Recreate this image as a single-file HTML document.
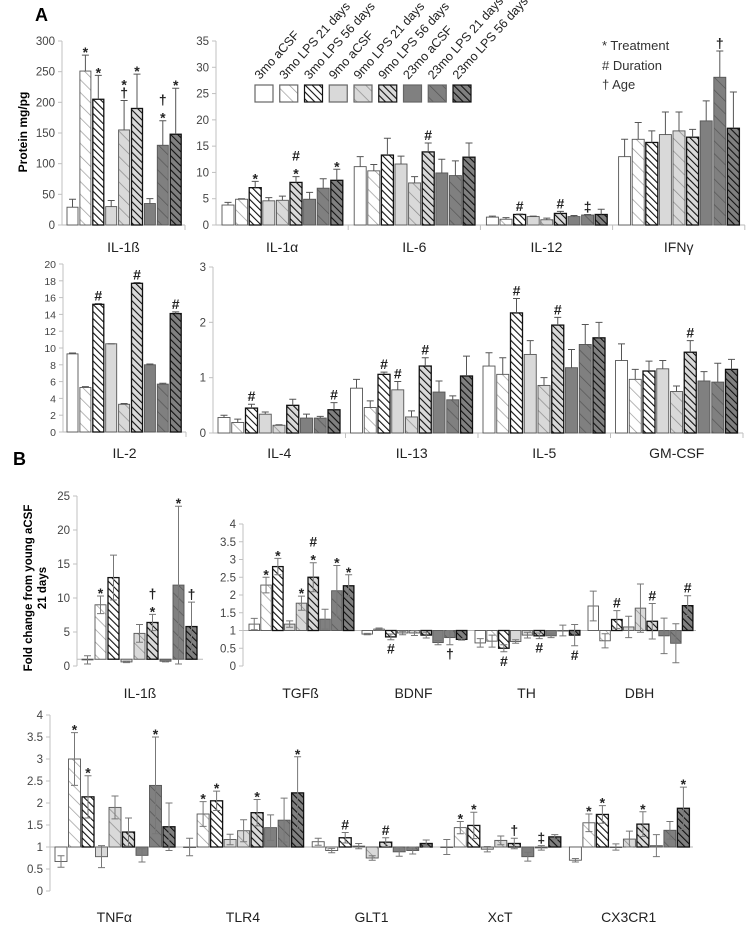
<!DOCTYPE html>
<html><head><meta charset="utf-8"><style>
html,body{margin:0;padding:0;background:#fff;}
svg{display:block;font-family:"Liberation Sans",sans-serif;}
</style></head><body>
<svg id="chart" width="754" height="929" viewBox="0 0 754 929" xmlns="http://www.w3.org/2000/svg">
<defs>
<pattern id="p1" patternUnits="userSpaceOnUse" width="9" height="9" patternTransform="rotate(-45)"><rect width="9" height="9" fill="#ffffff"/><line x1="0" y1="0" x2="0" y2="9" stroke="#999" stroke-width="1.4"/></pattern>
<pattern id="p2" patternUnits="userSpaceOnUse" width="5" height="5" patternTransform="rotate(-45)"><rect width="5" height="5" fill="#ffffff"/><line x1="0" y1="0" x2="0" y2="5" stroke="#111" stroke-width="2.2"/></pattern>
<pattern id="p4" patternUnits="userSpaceOnUse" width="9" height="9" patternTransform="rotate(-45)"><rect width="9" height="9" fill="#d9d9d9"/><line x1="0" y1="0" x2="0" y2="9" stroke="#8a8a8a" stroke-width="1.4"/></pattern>
<pattern id="p5" patternUnits="userSpaceOnUse" width="5" height="5" patternTransform="rotate(-45)"><rect width="5" height="5" fill="#d9d9d9"/><line x1="0" y1="0" x2="0" y2="5" stroke="#111" stroke-width="2.2"/></pattern>
<pattern id="p7" patternUnits="userSpaceOnUse" width="9" height="9" patternTransform="rotate(-45)"><rect width="9" height="9" fill="#808080"/><line x1="0" y1="0" x2="0" y2="9" stroke="#555" stroke-width="1.4"/></pattern>
<pattern id="p8" patternUnits="userSpaceOnUse" width="5" height="5" patternTransform="rotate(-45)"><rect width="5" height="5" fill="#808080"/><line x1="0" y1="0" x2="0" y2="5" stroke="#111" stroke-width="2.2"/></pattern>
</defs>
<text x="35" y="21" font-size="18" font-weight="bold">A</text>
<text x="13" y="465" font-size="18" font-weight="bold">B</text>
<text transform="translate(27,132) rotate(-90)" text-anchor="middle" font-size="12" font-weight="bold">Protein mg/pg</text>
<text transform="translate(32,588) rotate(-90)" text-anchor="middle" font-size="11.5" font-weight="bold"><tspan x="0" dy="0">Fold change from young aCSF</tspan><tspan x="0" dy="14">21 days</tspan></text>
<g font-size="13" fill="#333">
<text x="602" y="50">* Treatment</text>
<text x="602" y="70"># Duration</text>
<text x="602" y="89">† Age</text>
</g>
<g id="legend"></g>
<g id="plots"></g>
</svg>
<script>
// ---------- data ----------
const seriesNames = ["3mo aCSF","3mo LPS 21 days","3mo LPS 56 days","9mo aCSF","9mo LPS 21 days","9mo LPS 56 days","23mo aCSF","23mo LPS 21 days","23mo LPS 56 days"];

const aIl1bValues = [29,251,205,30,155,190,35,130,148];
const aIl1bErrors = [13,26,39,10,48,56,8,40,75];
const aIl1bMarks = ["","*","*","","*\n†","*","","†\n*","*"];

const il1aValues = [3.8,4.9,7.1,4.6,4.7,8.1,4.9,7.0,8.5];
const il1aErrors = [0.5,0.1,1.2,0.6,0.8,1.1,1.3,1.8,2.1];
const il1aMarks = ["","","*","","","#\n*","","","*"];
const il6Values = [11.1,10.3,13.3,11.6,8.0,13.9,9.9,9.4,12.9];
const il6Errors = [1.9,1.2,3.2,1.5,1.2,1.7,2.6,2.8,2.7];
const il6Marks = ["","","","","","#","","",""];
const il12Values = [1.5,1.1,2.0,1.6,1.0,2.2,1.6,1.9,2.0];
const il12Errors = [0.2,0.3,0.1,0.1,0.3,0.4,0.2,0.1,1.0];
const il12Marks = ["","","#","","","#","","‡",""];
const ifngValues = [13.0,16.3,15.7,17.2,17.9,16.7,19.8,28.1,18.4];
const ifngErrors = [3.3,3.2,2.2,4.3,3.6,1.5,3.8,5.0,6.9];
const ifngMarks = ["","","","","","","","†",""];

const il2Values = [9.3,5.3,15.2,10.5,3.3,17.7,8.0,5.7,14.1];
const il2Errors = [0.1,0.1,0.1,0,0.1,0.1,0.1,0.1,0.2];
const il2Marks = ["","","#","","","#","","","#"];
const il4Values = [0.28,0.19,0.45,0.34,0.14,0.50,0.27,0.27,0.42];
const il4Errors = [0.04,0.06,0.07,0.04,0.01,0.11,0.07,0.03,0.13];
const il4Marks = ["","","#","","","","","","#"];
const il13Values = [0.81,0.46,1.06,0.78,0.29,1.21,0.74,0.60,1.03];
const il13Errors = [0.16,0.12,0.04,0.15,0.11,0.15,0.2,0.07,0.36];
const il13Marks = ["","","#","#","","#","","",""];
const il5Values = [1.21,1.06,2.17,1.42,0.86,1.95,1.18,1.6,1.72];
const il5Errors = [0.24,0.3,0.26,0.25,0.14,0.14,0.33,0.36,0.28];
const il5Marks = ["","","#","","","#","","",""];
const gmcsfValues = [1.31,0.97,1.12,1.16,0.75,1.46,0.94,0.92,1.15];
const gmcsfErrors = [0.3,0.18,0.18,0.15,0.1,0.21,0.17,0.34,0.18];
const gmcsfMarks = ["","","","","","#","","",""];

const bIl1bValues = [0.9,9.0,13.0,0.6,4.8,6.4,0.7,11.9,5.8];
const bIl1bErrors = [0.6,1.3,3.3,0.1,1.3,1.2,0.1,11.6,3.6];
const bIl1bMarks = ["","*","","","","†\n*","","*","†"];
const tgfbValues = [1.18,2.28,2.8,1.18,1.77,2.5,1.32,2.12,2.26];
const tgfbErrors = [0.16,0.22,0.23,0.09,0.2,0.41,0.28,0.71,0.31];
const tgfbMarks = ["","*","*","","*","#\n*","","*","*"];
const bdnfValues = [0.9,1.04,0.82,0.93,0.93,0.87,0.66,0.8,0.75];
const bdnfErrors = [0.02,0.03,0.08,0.05,0.07,0.08,0.06,0.2,0.02];
const bdnfMarks = ["","","_#","","","","","_†",""];
const thValues = [0.65,0.7,0.5,0.69,0.87,0.85,0.85,1.0,0.87];
const thErrors = [0.12,0.17,0.1,0.05,0.08,0.08,0.05,0.15,0.3];
const thMarks = ["","","_#","","","_#","","","_#"];
const dbhValues = [1.69,0.71,1.31,1.1,1.63,1.26,0.85,0.64,1.7];
const dbhErrors = [0.42,0.2,0.25,0.3,0.68,0.5,0.5,0.55,0.28];
const dbhMarks = ["","","#","","","#","","","#"];

const tnfaValues = [0.67,3.0,2.14,0.78,1.9,1.34,0.81,2.4,1.46];
const tnfaErrors = [0.13,0.6,0.48,0.25,0.26,0.32,0.15,1.1,0.54];
const tnfaMarks = ["","*","*","","","","","*",""];
const tlr4Values = [1.0,1.75,2.05,1.17,1.37,1.78,1.44,1.61,2.23];
const tlr4Errors = [0.2,0.28,0.22,0.12,0.25,0.3,0.29,0.5,0.82];
const tlr4Marks = ["","*","*","","","*","","","*"];
const glt1Values = [1.12,0.92,1.21,1.02,0.75,1.11,0.89,0.92,1.08];
const glt1Errors = [0.08,0.05,0.12,0.06,0.05,0.1,0.1,0.08,0.08];
const glt1Marks = ["","","#","","","#","","",""];
const xctValues = [1.0,1.44,1.49,0.95,1.15,1.08,0.78,0.98,1.23];
const xctErrors = [0.17,0.14,0.3,0.06,0.1,0.12,0.1,0.05,0.05];
const xctMarks = ["","*","*","","","†","","‡",""];
const cx3cr1Values = [0.7,1.55,1.74,1.0,1.18,1.52,1.03,1.38,1.88];
const cx3cr1Errors = [0.04,0.2,0.2,0.07,0.18,0.28,0.25,0.2,0.48];
const cx3cr1Marks = ["","*","*","","","*","","","*"];

const ticksA1L = [0,50,100,150,200,250,300];
const ticksA1R = [0,5,10,15,20,25,30,35];
const ticksA2L = [0,2,4,6,8,10,12,14,16,18,20];
const ticksA2R = [0,1,2,3];
const ticksB1L = [0,5,10,15,20,25];
const ticksHalf = [0,0.5,1,1.5,2,2.5,3,3.5,4];

// ---------- drawing ----------
const NS = "http://www.w3.org/2000/svg";
const fills = ["#ffffff","url(#p1)","url(#p2)","#d9d9d9","url(#p4)","url(#p5)","#808080","url(#p7)","url(#p8)"];
const plots = document.getElementById('plots');
function mk(tag, parent){ const e=document.createElementNS(NS,tag); parent.appendChild(e); return e; }

function drawPanel(cfg){
  const g = mk('g', plots);
  
  
  const yScale = v => cfg.yBot - (v - cfg.min) / (cfg.max - cfg.min) * (cfg.yBot - cfg.yTop);
  const xEnd = cfg.gx + cfg.gw * cfg.groups.length;
  // y axis
  const ax = mk('line', g);
  
  
  ax.setAttribute('x1', cfg.ax); ax.setAttribute('x2', cfg.ax);
  ax.setAttribute('y1', yScale(cfg.ticks[cfg.ticks.length-1])); ax.setAttribute('y2', yScale(cfg.min));
  ax.setAttribute('stroke', '#c0c0c0');
  cfg.ticks.forEach(t => {
    const tk = mk('line', g);
    
    
    tk.setAttribute('x1', cfg.ax-4); tk.setAttribute('x2', cfg.ax);
    tk.setAttribute('y1', yScale(t)); tk.setAttribute('y2', yScale(t));
    tk.setAttribute('stroke', '#c0c0c0');
    const tl = mk('text', g);
    
    
    tl.setAttribute('x', cfg.ax-7); tl.setAttribute('y', yScale(t)+4);
    tl.setAttribute('text-anchor', 'end'); tl.setAttribute('font-size', cfg.tickFs || 11.5);
    tl.setAttribute('fill', '#444');
    tl.textContent = String(t);
  });
  // baseline
  const by = yScale(cfg.base);
  cfg.groups.forEach((grp, gi) => {
    const gx = cfg.gx + gi * cfg.gw;
    grp.vals.forEach((v, i) => {
      const x = gx + cfg.off + i * cfg.slot;
      const yv = yScale(v);
      const r = mk('rect', g);
      
      
      r.setAttribute('x', x); r.setAttribute('width', cfg.bw);
      r.setAttribute('y', Math.min(yv, by)); r.setAttribute('height', Math.max(0.5, Math.abs(by - yv)));
      r.setAttribute('fill', fills[i]);
      r.setAttribute('stroke', (i % 3 === 2) ? '#111' : '#555');
      r.setAttribute('stroke-width', (i % 3 === 2) ? 1.3 : 0.9);
      const e = grp.errs[i];
      const cx = x + cfg.bw/2;
      const up = cfg.sym ? yScale(v + e) : yScale(v + e);
      const dn = cfg.sym ? yScale(v - e) : yv;
      const el = mk('path', g);
      
      
      let d = 'M' + cx + ' ' + up + 'V' + dn + 'M' + (cx-3.5) + ' ' + up + 'H' + (cx+3.5);
      if (cfg.sym) d += 'M' + (cx-3.5) + ' ' + dn + 'H' + (cx+3.5);
      el.setAttribute('d', d);
      el.setAttribute('stroke', cfg.sym ? '#777' : '#555'); el.setAttribute('stroke-width', 1); el.setAttribute('fill', 'none');
      const m = grp.marks[i];
      if (m) {
        const below = m[0] === '_';
        const lines = (below ? m.slice(1) : m).split('\n');
        const topY = Math.min(up, yv, by);
        const botY = Math.max(dn, yv, by);
        lines.forEach((s, li) => {
          const t = mk('text', g);
          
          
          t.setAttribute('x', cx); t.setAttribute('text-anchor', 'middle');
          t.setAttribute('font-size', 14); t.setAttribute('font-weight', 'bold'); t.setAttribute('fill', '#222');
          let yy;
          if (below) yy = botY + 14 + li*13;
          else yy = topY - 3 - (lines.length-1-li)*13;
          if (s === '*') yy += 5;
          t.setAttribute('y', yy);
          t.textContent = s;
        });
      }
    });
    const lab = mk('text', g);
    
    
    lab.setAttribute('x', gx + cfg.gw/2); lab.setAttribute('y', cfg.labelY);
    lab.setAttribute('text-anchor', 'middle'); lab.setAttribute('font-size', 14); lab.setAttribute('fill', '#222');
    lab.textContent = grp.label;
    if (!cfg.sym) {
      const dv = mk('line', g);
      
      
      dv.setAttribute('x1', gx + cfg.gw); dv.setAttribute('x2', gx + cfg.gw);
      dv.setAttribute('y1', by); dv.setAttribute('y2', by+5); dv.setAttribute('stroke', '#c0c0c0');
    }
  });
  const bl = mk('line', g);
  
  
  bl.setAttribute('x1', cfg.ax); bl.setAttribute('x2', xEnd);
  bl.setAttribute('y1', by); bl.setAttribute('y2', by); bl.setAttribute('stroke', '#b8b8b8');
  g.insertBefore(bl, g.firstChild);
}

drawPanel({name:'panel-a-il1b', ax:62, yTop:41, yBot:225, min:0, max:300, ticks:ticksA1L, base:0, gx:62, gw:123, off:5, slot:12.9, bw:11, labelY:252,
  groups:[{key:'a-il1b', label:'IL-1ß', vals:aIl1bValues, errs:aIl1bErrors, marks:aIl1bMarks}]});
drawPanel({name:'panel-a-cytokines-top', ax:216, yTop:41, yBot:225, min:0, max:35, ticks:ticksA1R, base:0, gx:216, gw:132.2, off:6, slot:13.6, bw:12, labelY:252,
  groups:[{key:'il1a', label:'IL-1α', vals:il1aValues, errs:il1aErrors, marks:il1aMarks},
          {key:'il6', label:'IL-6', vals:il6Values, errs:il6Errors, marks:il6Marks},
          {key:'il12', label:'IL-12', vals:il12Values, errs:il12Errors, marks:il12Marks},
          {key:'ifng', label:'IFNγ', vals:ifngValues, errs:ifngErrors, marks:ifngMarks}]});
drawPanel({name:'panel-a-il2', ax:63, yTop:264, yBot:432, min:0, max:20, ticks:ticksA2L, tickFs:10.5, base:0, gx:63, gw:123, off:4, slot:12.9, bw:11, labelY:458,
  groups:[{key:'il2', label:'IL-2', vals:il2Values, errs:il2Errors, marks:il2Marks}]});
drawPanel({name:'panel-a-cytokines-bottom', ax:213, yTop:267, yBot:433, min:0, max:3, ticks:ticksA2R, base:0, gx:213, gw:132.5, off:5, slot:13.75, bw:12, labelY:458,
  groups:[{key:'il4', label:'IL-4', vals:il4Values, errs:il4Errors, marks:il4Marks},
          {key:'il13', label:'IL-13', vals:il13Values, errs:il13Errors, marks:il13Marks},
          {key:'il5', label:'IL-5', vals:il5Values, errs:il5Errors, marks:il5Marks},
          {key:'gmcsf', label:'GM-CSF', vals:gmcsfValues, errs:gmcsfErrors, marks:gmcsfMarks}]});
drawPanel({name:'panel-b-il1b', ax:77, yTop:496, yBot:666, min:0, max:25, ticks:ticksB1L, base:1, sym:true, gx:77, gw:126, off:5, slot:13, bw:11, labelY:698,
  groups:[{key:'b-il1b', label:'IL-1ß', vals:bIl1bValues, errs:bIl1bErrors, marks:bIl1bMarks}]});
drawPanel({name:'panel-b-genes-top', ax:243, yTop:524, yBot:666, min:0, max:4, ticks:ticksHalf, base:1, sym:true, gx:244, gw:113, off:5, slot:11.8, bw:10.5, labelY:698,
  groups:[{key:'tgfb', label:'TGFß', vals:tgfbValues, errs:tgfbErrors, marks:tgfbMarks},
          {key:'bdnf', label:'BDNF', vals:bdnfValues, errs:bdnfErrors, marks:bdnfMarks},
          {key:'th', label:'TH', vals:thValues, errs:thErrors, marks:thMarks},
          {key:'dbh', label:'DBH', vals:dbhValues, errs:dbhErrors, marks:dbhMarks}]});
drawPanel({name:'panel-b-genes-bottom', ax:50, yTop:715, yBot:891, min:0, max:4, ticks:ticksHalf, base:1, sym:true, gx:50, gw:128.6, off:5, slot:13.5, bw:12, labelY:922,
  groups:[{key:'tnfa', label:'TNFα', vals:tnfaValues, errs:tnfaErrors, marks:tnfaMarks},
          {key:'tlr4', label:'TLR4', vals:tlr4Values, errs:tlr4Errors, marks:tlr4Marks},
          {key:'glt1', label:'GLT1', vals:glt1Values, errs:glt1Errors, marks:glt1Marks},
          {key:'xct', label:'XcT', vals:xctValues, errs:xctErrors, marks:xctMarks},
          {key:'cx3cr1', label:'CX3CR1', vals:cx3cr1Values, errs:cx3cr1Errors, marks:cx3cr1Marks}]});

// legend
const lg = document.getElementById('legend');
seriesNames.forEach((n, i) => {
  const x = 255 + i * 24.75;
  const r = mk('rect', lg);
  
  
  r.setAttribute('x', x); r.setAttribute('y', 85); r.setAttribute('width', 18); r.setAttribute('height', 17);
  r.setAttribute('fill', fills[i]); r.setAttribute('stroke', (i % 3 === 2) ? '#111' : '#666'); r.setAttribute('stroke-width', 1.2);
  const t = mk('text', lg);
  
  
  t.setAttribute('transform', 'translate(' + (x + 5) + ',80) rotate(-48)');
  t.setAttribute('font-size', 12.5); t.setAttribute('fill', '#222');
  t.textContent = n;
});
</script>
</body></html>
